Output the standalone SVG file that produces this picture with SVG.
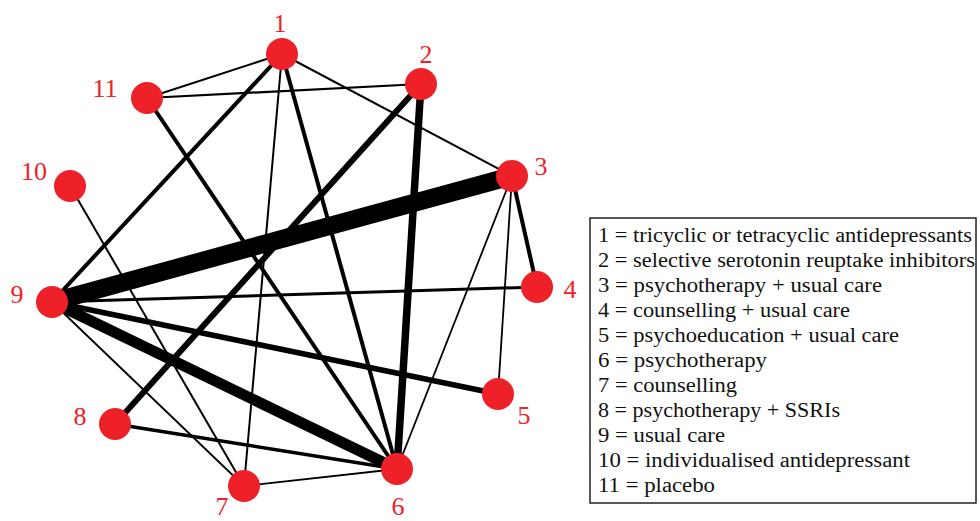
<svg xmlns="http://www.w3.org/2000/svg" width="980" height="521" viewBox="0 0 980 521">
<style>
.e{stroke:#000;stroke-linecap:butt;fill:none}
.n{fill:#EE2128}
.lbl{font-family:"Liberation Serif","DejaVu Serif",serif;font-size:26px;fill:#EE2128;text-anchor:middle}
.leg{font-family:"Liberation Serif","DejaVu Serif",serif;font-size:20.5px;fill:#111}
</style>
<rect width="980" height="521" fill="#fff"/>
<g id="connectors">
<line class="e" x1="52" y1="302" x2="512" y2="176" stroke-width="18"/>
<line class="e" x1="52" y1="302" x2="397" y2="469" stroke-width="11"/>
<line class="e" x1="421" y1="84" x2="397" y2="469" stroke-width="7.5"/>
<line class="e" x1="421" y1="84" x2="115" y2="424" stroke-width="6"/>
<line class="e" x1="52" y1="302" x2="498" y2="394" stroke-width="5.5"/>
<line class="e" x1="282" y1="54" x2="52" y2="302" stroke-width="4"/>
<line class="e" x1="282" y1="54" x2="397" y2="469" stroke-width="4"/>
<line class="e" x1="147" y1="98" x2="397" y2="469" stroke-width="4"/>
<line class="e" x1="512" y1="176" x2="537" y2="287" stroke-width="4"/>
<line class="e" x1="52" y1="302" x2="537" y2="287" stroke-width="3"/>
<line class="e" x1="115" y1="424" x2="397" y2="469" stroke-width="3.5"/>
<line class="e" x1="282" y1="54" x2="147" y2="98" stroke-width="2"/>
<line class="e" x1="282" y1="54" x2="244" y2="486" stroke-width="2"/>
<line class="e" x1="282" y1="54" x2="512" y2="176" stroke-width="2"/>
<line class="e" x1="147" y1="98" x2="421" y2="84" stroke-width="2.2"/>
<line class="e" x1="512" y1="176" x2="397" y2="469" stroke-width="1.8"/>
<line class="e" x1="512" y1="176" x2="498" y2="394" stroke-width="1.8"/>
<line class="e" x1="244" y1="486" x2="397" y2="469" stroke-width="1.8"/>
<line class="e" x1="52" y1="302" x2="244" y2="486" stroke-width="1.8"/>
<line class="e" x1="70" y1="186" x2="244" y2="486" stroke-width="2"/>
</g>
<g id="node1"><circle class="n" cx="282" cy="54" r="16"/><text class="lbl" x="280" y="32">1</text></g>
<g id="node2"><circle class="n" cx="421" cy="84" r="16"/><text class="lbl" x="426" y="63">2</text></g>
<g id="node3"><circle class="n" cx="512" cy="176" r="16"/><text class="lbl" x="541" y="175">3</text></g>
<g id="node4"><circle class="n" cx="537" cy="287" r="16"/><text class="lbl" x="570" y="298">4</text></g>
<g id="node5"><circle class="n" cx="498" cy="394" r="16"/><text class="lbl" x="524" y="424">5</text></g>
<g id="node6"><circle class="n" cx="397" cy="469" r="16"/><text class="lbl" x="398" y="515">6</text></g>
<g id="node7"><circle class="n" cx="244" cy="486" r="16"/><text class="lbl" x="222" y="515">7</text></g>
<g id="node8"><circle class="n" cx="115" cy="424" r="16"/><text class="lbl" x="80" y="425">8</text></g>
<g id="node9"><circle class="n" cx="52" cy="302" r="16"/><text class="lbl" x="17" y="303">9</text></g>
<g id="node10"><circle class="n" cx="70" cy="186" r="16"/><text class="lbl" x="34" y="180">10</text></g>
<g id="node11"><circle class="n" cx="147" cy="98" r="16"/><text class="lbl" x="105" y="97">11</text></g>
<g id="legend">
<rect x="590" y="218" width="386" height="285" fill="#fff" stroke="#222" stroke-width="1.5"/>
<text class="leg" x="598" y="242" textLength="374" lengthAdjust="spacingAndGlyphs">1 = tricyclic or tetracyclic antidepressants</text>
<text class="leg" x="598" y="267" textLength="377" lengthAdjust="spacingAndGlyphs">2 = selective serotonin reuptake inhibitors</text>
<text class="leg" x="598" y="292" textLength="284" lengthAdjust="spacingAndGlyphs">3 = psychotherapy + usual care</text>
<text class="leg" x="598" y="317" textLength="252" lengthAdjust="spacingAndGlyphs">4 = counselling + usual care</text>
<text class="leg" x="598" y="342" textLength="301" lengthAdjust="spacingAndGlyphs">5 = psychoeducation + usual care</text>
<text class="leg" x="598" y="367" textLength="169" lengthAdjust="spacingAndGlyphs">6 = psychotherapy</text>
<text class="leg" x="598" y="392" textLength="139" lengthAdjust="spacingAndGlyphs">7 = counselling</text>
<text class="leg" x="598" y="417" textLength="242" lengthAdjust="spacingAndGlyphs">8 = psychotherapy + SSRIs</text>
<text class="leg" x="598" y="442" textLength="127" lengthAdjust="spacingAndGlyphs">9 = usual care</text>
<text class="leg" x="598" y="467" textLength="312" lengthAdjust="spacingAndGlyphs">10 = individualised antidepressant</text>
<text class="leg" x="598" y="492" textLength="117" lengthAdjust="spacingAndGlyphs">11 = placebo</text>
</g>
</svg>
